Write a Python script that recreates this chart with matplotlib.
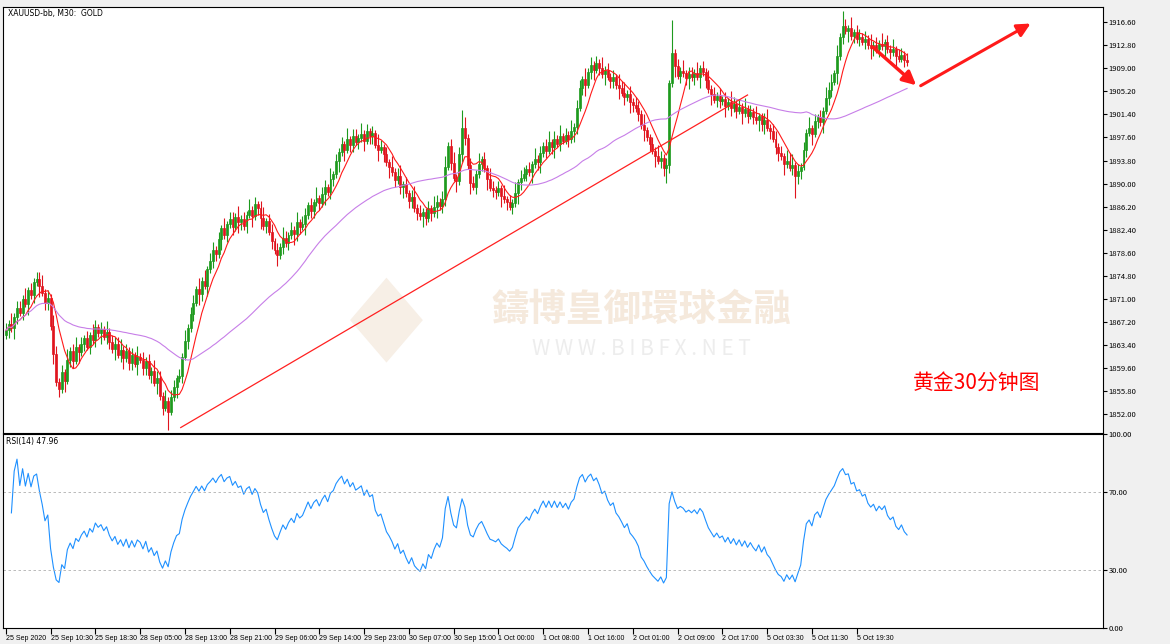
import numpy as np
import pandas as pd
import matplotlib.pyplot as plt
from matplotlib.patches import Rectangle, Polygon

plt.rcParams['font.family'] = ['Noto Sans CJK SC', 'DejaVu Sans']

# closes, one per 30-minute bar
closes = [
    1865.8, 1866.9, 1866.2, 1868.0, 1869.5, 1868.7,
    1871.0, 1870.2, 1872.4, 1871.6, 1873.8, 1874.3,
    1873.1, 1872.0, 1870.4, 1871.2,
    1866.5, 1862.0, 1857.3, 1856.1,
    1858.9, 1857.5, 1861.0,
    1862.4, 1860.8, 1863.0, 1862.2, 1863.6,
    1864.5, 1863.1, 1865.0, 1864.2, 1866.3, 1865.4, 1866.0,
    1864.8, 1865.6, 1863.9, 1862.7, 1863.5, 1861.8, 1862.6,
    1861.2, 1862.4, 1860.5, 1861.7, 1860.3, 1861.5, 1861.0,
    1859.6, 1860.8, 1858.4, 1859.1, 1857.2, 1857.9,
    1855.0, 1853.1, 1854.2, 1852.4,
    1854.8, 1856.5, 1857.9, 1858.3,
    1861.5, 1864.0, 1866.2,
    1868.5, 1870.4, 1872.6, 1871.8,
    1874.0, 1873.2, 1875.9, 1877.3,
    1879.1, 1878.4, 1880.9,
    1882.6, 1881.5, 1883.3, 1884.1,
    1882.8, 1884.5, 1883.6, 1884.2, 1883.0,
    1884.9, 1885.7, 1884.6, 1886.6, 1886.0,
    1884.3, 1883.0, 1883.8, 1882.1,
    1880.5, 1879.0, 1878.2, 1879.6,
    1881.0, 1880.2, 1881.5,
    1882.4, 1881.7, 1883.6, 1882.9, 1883.4,
    1884.8, 1886.4, 1885.5, 1886.9,
    1887.6, 1886.8, 1888.3,
    1889.4, 1888.6, 1890.8, 1891.5,
    1893.7, 1895.2, 1896.5,
    1895.6, 1897.3, 1896.4, 1897.8, 1896.9, 1897.5,
    1898.2, 1897.1, 1898.6, 1897.8, 1898.3,
    1896.4, 1895.6, 1896.0, 1894.8,
    1893.5, 1892.8, 1891.9,
    1890.6, 1891.3, 1889.5, 1889.9,
    1888.4, 1887.1, 1887.8,
    1886.0, 1885.2, 1884.6, 1885.4,
    1884.3, 1885.9, 1885.1, 1886.2,
    1887.0, 1886.3, 1887.5,
    1892.8, 1896.2, 1893.4,
    1891.0, 1890.4, 1894.8,
    1899.2, 1897.5, 1893.0,
    1890.1, 1889.5,
    1891.6, 1893.2, 1894.0, 1892.5,
    1890.8, 1889.3, 1889.0,
    1888.6, 1889.2, 1888.0,
    1887.4, 1886.9, 1886.2, 1886.8,
    1888.5, 1890.2, 1891.0,
    1891.6, 1892.4, 1891.9, 1893.2,
    1894.1, 1893.5, 1895.0, 1896.2,
    1895.4, 1896.8, 1896.0, 1897.4,
    1896.6, 1897.8, 1897.1,
    1898.0, 1897.3, 1898.7, 1899.4,
    1902.5, 1905.8, 1907.2,
    1906.3, 1908.4, 1909.6, 1908.8, 1909.9,
    1909.1, 1908.0, 1908.7, 1907.6,
    1906.9, 1907.5, 1906.2, 1905.7, 1905.0,
    1904.2, 1904.8, 1903.5, 1903.0,
    1902.4, 1901.5, 1899.6, 1898.8,
    1897.6, 1896.5, 1895.4,
    1894.6, 1893.8, 1894.2,
    1892.5, 1893.0,
    1906.5, 1911.5,
    1909.4, 1907.8, 1908.6,
    1908.2, 1907.4, 1908.0, 1907.5,
    1908.3, 1907.6, 1909.0, 1908.4,
    1907.0, 1905.6, 1904.7,
    1903.8, 1904.5, 1903.6, 1903.9,
    1902.8, 1903.5, 1902.4, 1903.1, 1902.0,
    1902.7, 1901.6, 1902.3, 1901.2, 1901.8,
    1901.0, 1900.4, 1901.1, 1899.9,
    1900.5, 1899.2, 1898.6,
    1897.4, 1896.1, 1895.0, 1894.5,
    1893.2, 1893.8, 1892.6, 1893.0,
    1891.2, 1892.0, 1892.8,
    1895.6, 1898.4, 1899.1, 1898.2,
    1900.3, 1900.9, 1900.1,
    1902.0, 1904.1, 1905.5, 1906.8,
    1908.2, 1911.0, 1914.2,
    1916.0, 1915.2, 1915.6,
    1914.3, 1914.9, 1913.8, 1914.2,
    1913.4, 1913.9, 1912.8, 1912.3,
    1912.9, 1912.1, 1913.0, 1912.6,
    1913.3, 1912.2, 1911.7, 1912.1,
    1911.0, 1910.6, 1911.2, 1910.4, 1910.0,
]
first_open = 1865.0

# wick lengths per bar, in steps of 0.6
upper_wicks = ("2131221312 1223121321 2131231212 1321213122 2312121312 1213221312 "
               "2121312213 1312212131 2213121312 1231221213 2121312212 1312213121 "
               "2131221312 1213212131 2312123121 1213212312 3125312213 1213212131 "
               "2131221213 1212312131 2131221312 1213121213 2312122131 1213212191 "
               "2131221312 1312121213 2121312131 1231221213 2312121312 1213221314 "
               "2131221213 1213121312 212")
lower_wicks = ("1213212131 2131221312 1312213121 2121312213 1231221312 2121312151 "
               "1312121213 2131221312 1213212131 2312121312 1213221312 2121312213 "
               "1312212131 2213121312 1231221213 2121312212 1312213121 2131221312 "
               "1213212131 2312123121 1213212312 3121312213 1213212131 2131224213 "
               "1212312131 2131221312 1213121213 2312122131 1262212131 2131221312 "
               "1312121213 2121312131 121")
wick_step = 0.6

price_ticks = [1852.0, 1855.8, 1859.6, 1863.4, 1867.2, 1871.0, 1874.8, 1878.6,
               1882.4, 1886.2, 1890.0, 1893.8, 1897.6, 1901.4, 1905.2, 1909.0,
               1912.8, 1916.6]
time_labels = ["25 Sep 2020", "25 Sep 10:30", "25 Sep 18:30", "28 Sep 05:00",
               "28 Sep 13:00", "28 Sep 21:00", "29 Sep 06:00", "29 Sep 14:00",
               "29 Sep 23:00", "30 Sep 07:00", "30 Sep 15:00", "1 Oct 00:00",
               "1 Oct 08:00", "1 Oct 16:00", "2 Oct 01:00", "2 Oct 09:00",
               "2 Oct 17:00", "5 Oct 03:30", "5 Oct 11:30", "5 Oct 19:30"]
bars_per_label = 16

# drawn annotations (bar index, price)
trend_line = [(62.5, 1849.8), (265, 1904.6)]
arrow_down = [(309, 1912.8), (326, 1905.9)]
arrow_up = [(326, 1905.9), (367, 1916.6)]

closes = np.array(closes)
opens = np.concatenate([[first_open], closes[:-1]])
up_w = np.array([int(c) for c in upper_wicks.replace(" ", "")]) * wick_step
lo_w = np.array([int(c) for c in lower_wicks.replace(" ", "")]) * wick_step
highs = np.maximum(opens, closes) + up_w
lows = np.minimum(opens, closes) - lo_w
idx = np.arange(len(closes))

s = pd.Series(closes)
ma_fast = s.rolling(8, min_periods=1).mean()
ma_slow = s.rolling(50, min_periods=1).mean()
delta = s.diff().fillna(0)
gain = delta.clip(lower=0).ewm(alpha=1 / 14, adjust=True).mean()
loss = (-delta.clip(upper=0)).ewm(alpha=1 / 14, adjust=True).mean()
rsi = 100 - 100 / (1 + gain / loss.replace(0, 1e-9))

W, H = 1170, 644
fig = plt.figure(figsize=(W / 100, H / 100), dpi=100, facecolor="#f0f0f0")
ax = fig.add_axes([3 / W, 1 - 433 / H, 1100 / W, 426 / H])
ax2 = fig.add_axes([3 / W, 1 - 628 / H, 1100 / W, 194 / H], sharex=ax)

for a in (ax, ax2):
    a.set_facecolor("white")
    a.yaxis.tick_right()
    a.tick_params(axis="y", labelsize=5.5, length=3, pad=1)
    for sp in a.spines.values():
        sp.set_color("black")
        sp.set_linewidth(0.8)

# watermark
ax.text(227, 1869.2, "鑄博皇御環球金融", fontsize=27, color="#f5e9dc",
        ha="center", va="center", zorder=0, fontweight="bold")
ax.text(227, 1862.8, "W W W . B I B F X . N E T", fontsize=15,
        color="#ededed", ha="center", va="center", zorder=0)
ax.add_patch(Polygon([(123, 1867.5), (136, 1874.5), (149, 1867.5), (136, 1860.5)],
                     closed=True, facecolor="#f7efe6", edgecolor="none", zorder=0))

colors = np.where(closes >= opens, "#1e9a1e", "#e0141e")
ax.vlines(idx, lows, highs, colors=colors, linewidth=0.8, zorder=2)
for i in idx:
    lo, hi = sorted((opens[i], closes[i]))
    ax.add_patch(Rectangle((i - 0.35, lo), 0.7, max(hi - lo, 0.08),
                           facecolor=colors[i], edgecolor=colors[i], linewidth=0.5, zorder=3))

ax.plot(idx, ma_fast, color="#ff1a1a", linewidth=0.8, zorder=4)
ax.plot(idx, ma_slow, color="#c77ee8", linewidth=0.8, zorder=4)
ax.plot(*zip(*trend_line), color="#ff2020", linewidth=0.9, zorder=4)
ax.annotate("", xy=arrow_down[1], xytext=arrow_down[0],
            arrowprops=dict(arrowstyle="-|>,head_width=0.4,head_length=0.8",
                            color="#ff1a1a", linewidth=2.5))
ax.annotate("", xy=arrow_up[1], xytext=arrow_up[0],
            arrowprops=dict(arrowstyle="-|>,head_width=0.4,head_length=0.8",
                            color="#ff1a1a", linewidth=2.2))
ax.text(324, 1857.2, "黄金30分钟图", color="#ff0000", fontsize=15, va="center")
ax.text(0.005, 0.995, "XAUUSD-bb, M30:  GOLD", transform=ax.transAxes,
        fontsize=5.5, va="top", family="DejaVu Sans")

ax.set_xlim(-1, 392)
ax.set_ylim(1848.9, 1919.1)
ax.set_yticks(price_ticks)
ax.set_yticklabels([f"{v:.2f}" for v in price_ticks])
ax.tick_params(axis="x", bottom=False, labelbottom=False)

ax2.plot(idx[2:], rsi[2:], color="#1e90ff", linewidth=0.8)
ax2.axhline(70, color="#b0b0b0", linestyle=(0, (3, 3)), linewidth=0.6)
ax2.axhline(30, color="#b0b0b0", linestyle=(0, (3, 3)), linewidth=0.6)
ax2.set_ylim(0, 100)
ax2.set_yticks([0, 30, 70, 100])
ax2.set_yticklabels(["0.00", "30.00", "70.00", "100.00"])
ax2.text(0.003, 0.985, f"RSI(14) {rsi.iloc[-1]:.2f}", transform=ax2.transAxes,
         fontsize=5.5, va="top", family="DejaVu Sans")

xt = [k * bars_per_label for k in range(len(time_labels))]
ax2.set_xticks(xt)
ax2.set_xticklabels(time_labels, fontsize=5, ha="left", family="Liberation Sans")
ax2.tick_params(axis="x", length=4, pad=1, direction="out")

fig.savefig("out.png", dpi=100, facecolor=fig.get_facecolor())
